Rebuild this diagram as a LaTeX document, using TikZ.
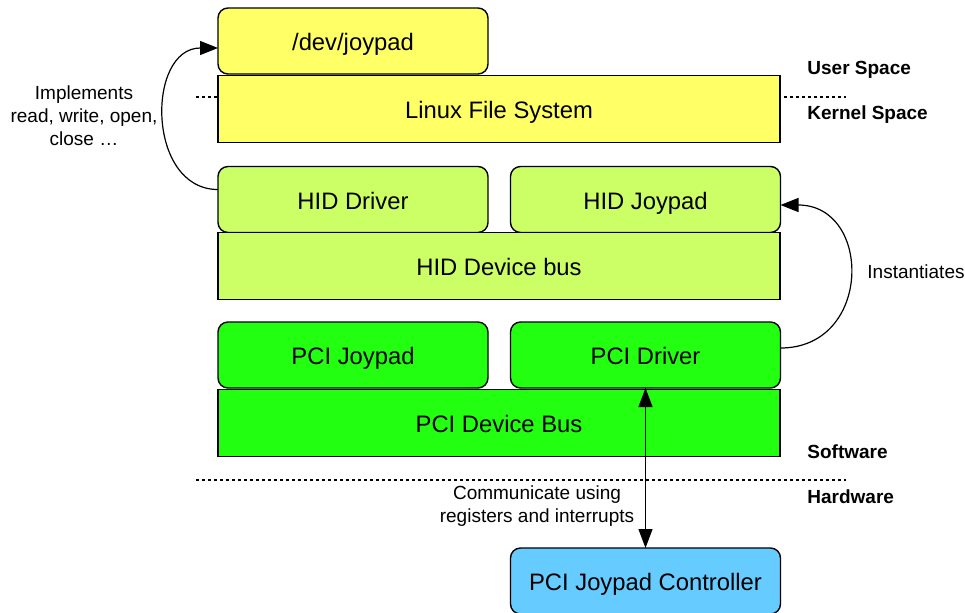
\documentclass[tikz,border=0pt]{standalone}
\usepackage{fontspec}
\setmainfont{Liberation Sans}
\usetikzlibrary{arrows.meta}
\definecolor{userylw}{HTML}{FFFF66}
\definecolor{hidgreen}{HTML}{CCFF66}
\definecolor{pcigreen}{HTML}{22FF11}
\definecolor{hwblue}{HTML}{66CCFF}
\tikzset{
  layer/.style={draw, line width=0.7pt, inner sep=0pt, outer sep=0pt,
    text height=10.2pt, text depth=0.4pt, font=\fontsize{11.9}{14}\selectfont},
  roundlayer/.style={layer, rounded corners=5pt},
  half/.style={minimum width=135pt, minimum height=33pt},
  full/.style={minimum width=281pt, minimum height=33.5pt},
  side/.style={font=\fontsize{9.5}{11.5}\selectfont, align=center},
  spacelabel/.style={font=\bfseries\fontsize{9.5}{11}\selectfont, anchor=west, inner sep=0pt},
  sep/.style={dash pattern=on 1.5pt off 1.5pt, line width=0.55pt},
  tip/.style={-{Triangle[length=9pt,width=7pt]}, line width=0.6pt},
}
\begin{document}
\begin{tikzpicture}[x=0.5pt,y=-0.5pt]
  \useasboundingbox (0,0) rectangle (965,612);
  % separators, behind the layers
  \coordinate (ukl) at (196,97);
  \coordinate (ukr) at (846,97);
  \coordinate (swl) at (196,480);
  \coordinate (swr) at (846,480);
  \draw[sep] (ukl) -- (ukr);
  \draw[sep] (swl) -- (swr);

  % layers
  \node[roundlayer, half, fill=userylw] (devjoy) at (353,41) {/dev/joypad};
  \node[layer, full, fill=userylw] (linuxfs) at (499,109) {Linux File System};
  \node[roundlayer, half, fill=hidgreen] (hiddrv) at (353,199.5) {HID Driver};
  \node[roundlayer, half, fill=hidgreen] (hidjoy) at (645.5,199.5) {HID Joypad};
  \node[layer, full, fill=hidgreen] (hidbus) at (499,266) {HID Device bus};
  \node[roundlayer, half, fill=pcigreen] (pcijoy) at (353,355) {PCI Joypad};
  \node[roundlayer, half, fill=pcigreen] (pcidrv) at (645.5,355) {PCI Driver};
  \node[layer, full, fill=pcigreen] (pcibus) at (499,423) {PCI Device Bus};
  \node[roundlayer, half, fill=hwblue] (pcictrl) at (645.5,581) {PCI Joypad Controller};

  % labels
  \node[spacelabel] (user) at (807,70) {User Space};
  \node[spacelabel] (kernel) at (807,115) {Kernel Space};
  \node[spacelabel] (sw) at (807,452) {Software};
  \node[spacelabel] (hw) at (807,497) {Hardware};
  \node[side] (impl) at (84,116) {Implements\\read, write, open,\\close …};
  \node[side] (inst) at (916,272) {Instantiates};
  \node[side] (comm) at (537,506) {Communicate using\\registers and interrupts};

  \begin{scope}[tip]
    \draw ([yshift=5pt]hiddrv.west) to[out=180,in=180,looseness=1.3] ([yshift=-3.5pt]devjoy.west);
    \draw ([yshift=3.5pt]pcidrv.east) to[out=0,in=0,looseness=1.65] ([yshift=-2.75pt]hidjoy.east);
    \draw[{Triangle[length=9.5pt,width=7pt]}-{Triangle[length=9.5pt,width=7pt]}] (pcidrv.south) -- (pcictrl.north);
  \end{scope}
\end{tikzpicture}
\end{document}
